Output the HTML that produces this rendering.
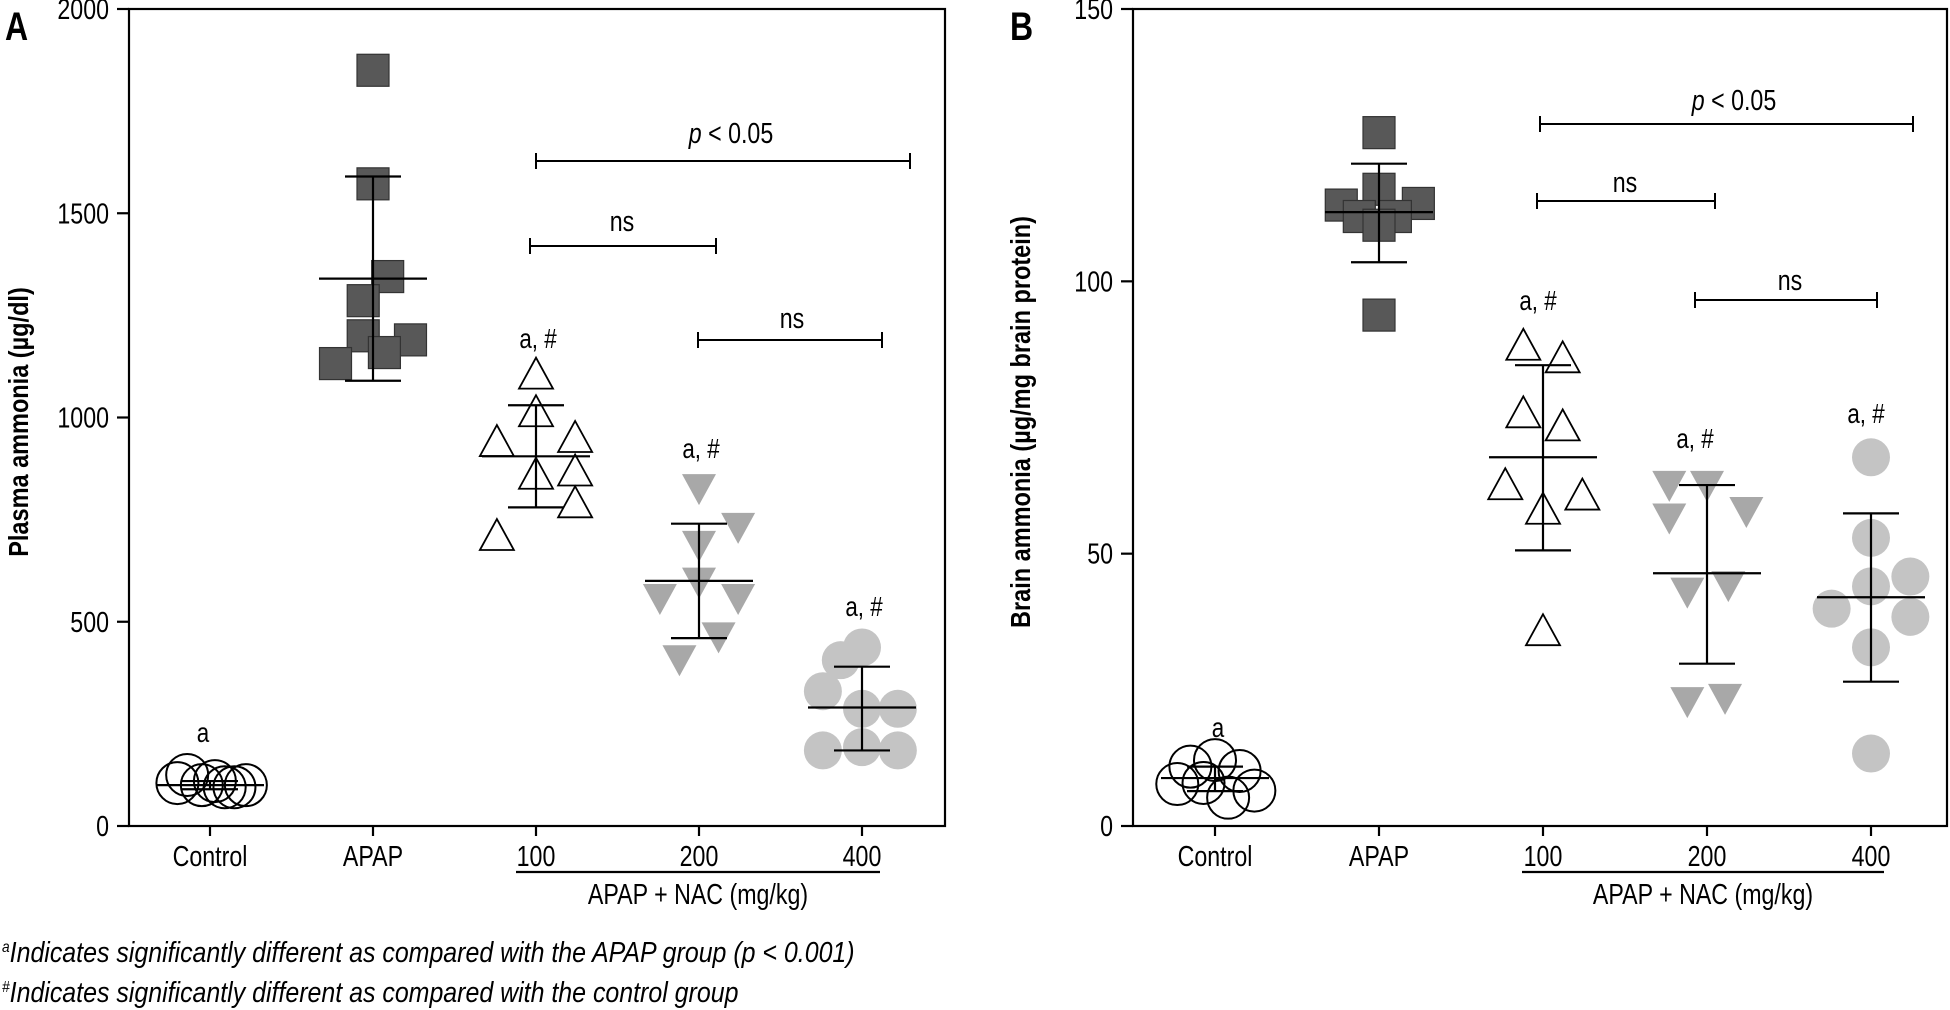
<!DOCTYPE html>
<html><head><meta charset="utf-8"><style>
html,body{margin:0;padding:0;background:#fff;}
svg{display:block;font-family:"Liberation Sans",sans-serif;}
</style></head><body>
<svg id="fig" width="1950" height="1010" viewBox="0 0 1950 1010" xmlns="http://www.w3.org/2000/svg"></svg>
<script>
// ---------- Data ----------
const categories = ["Control","APAP","100","200","400"];
// Panel A: Plasma ammonia (µg/dl)
const plasmaControl = [105,125,100,110,95,95,100];
const plasmaAPAP = [1850,1572,1345,1286,1200,1190,1159,1132];
const plasmaNAC100 = [1100,1008,935,945,855,863,785,705];
const plasmaNAC200 = [832,737,693,603,563,563,469,413];
const plasmaNAC400 = [437,406,330,287,287,185,193,185];
const plasmaMean = [100,1340,905,600,290];
const plasmaLow = [90,1090,780,460,185];
const plasmaHigh = [110,1590,1030,740,390];
const plasmaTicks = [0,500,1000,1500,2000];
// Panel B: Brain ammonia (µg/mg brain protein)
const brainControl = [10.9,12.1,10.1,7.7,7.9,5.2,6.5];
const brainAPAP = [127.3,116.9,114,114.3,111.9,111.9,110.3,93.8];
const brainNAC100 = [87.8,85.5,75.4,73,62.2,60.3,57.7,35.4];
const brainNAC200 = [63,63,58.2,57,43.4,44.6,23.3,23.9];
const brainNAC400 = [67.7,52.9,39.9,44,45.8,38.4,32.8,13.3];
const brainMean = [8.8,112.7,67.7,46.4,42];
const brainLow = [6.4,103.5,50.6,29.8,26.5];
const brainHigh = [10.9,121.6,84.6,62.6,57.4];
const brainTicks = [0,50,100,150];
// horizontal jitter (fraction of category spacing) for the scatter points
const jitA = [[-.2,-.14,-.05,.03,.09,.15,.22],[0,0,.09,-.06,-.06,.23,.07,-.23],[0,0,-.24,.24,0,.24,.24,-.24],[0,.24,0,0,-.24,.24,.12,-.12],[0,-.13,-.24,0,.22,-.24,0,.22]];
const jitB = [[-.15,0,.15,-.23,-.07,.08,.24],[0,0,-.23,.24,-.12,.1,0,0],[-.12,.12,-.12,.12,-.23,.24,0,0],[-.23,0,.24,-.23,-.12,.13,-.12,.11],[0,0,-.24,0,.24,.24,0,0]];

const NS="http://www.w3.org/2000/svg";
const SX=0.8;
const svg=document.getElementById('fig');
function el(tag,attrs,parent){const e=document.createElementNS(NS,tag);for(const k in attrs)e.setAttribute(k,attrs[k]);(parent||svg).appendChild(e);return e;}
function txt(s,attrs,parent){
  const a=Object.assign({},attrs);
  const x=a.x,y=a.y;delete a.x;delete a.y;
  a.transform=`translate(${x},${y}) scale(${SX},1)`;
  const t=el('text',a,parent);t.textContent=s;return t;}

function panel(cfg){
  const g=el('g',{});
  
  
  const L=cfg.left,R=cfg.right,T=9,B=826,max=cfg.max;
  const y=v=>B-(v/max)*(B-T);
  const x=i=>cfg.x0+i*cfg.dx;
  const fr=el('rect',{x:L,y:T,width:R-L,height:B-T,fill:'none',stroke:'#000','stroke-width':2.2},g);
  
  
  cfg.ticks.forEach(t=>{
    el('line',{x1:L-12,x2:L,y1:y(t),y2:y(t),stroke:'#000','stroke-width':2.2},g);
    const lb=txt(String(t),{x:L-20,y:y(t)+10,'text-anchor':'end','font-size':29},g);
    
    
  });
  categories.forEach((c,i)=>{
    el('line',{x1:x(i),x2:x(i),y1:B,y2:B+10,stroke:'#000','stroke-width':2.2},g);
    const lb=txt(c,{x:x(i),y:866,'text-anchor':'middle','font-size':29},g);
    
    
  });
  el('line',{x1:cfg.ulx1,x2:cfg.ulx2,y1:872,y2:872,stroke:'#000','stroke-width':2.2},g);
  const grp=txt('APAP + NAC (mg/kg)',{x:(cfg.ulx1+cfg.ulx2)/2,y:904,'text-anchor':'middle','font-size':29},g);
  
  
  const yt=el('text',{x:0,y:0,'text-anchor':'middle','font-size':28,'font-weight':'bold',transform:`translate(${cfg.ytx},422) rotate(-90) scale(0.84,1)`},g);
  yt.textContent=cfg.ytitle;
  
  
  const pl=txt(cfg.letter,{x:cfg.letterX,y:40,'font-size':40,'font-weight':'bold'},g);
  
  
  cfg.series.forEach((vals,i)=>{
    vals.forEach((v,j)=>{
      const cx=x(i)+cfg.jit[i][j]*cfg.dx, cy=y(v);
      let m;
      if(i===0) m=el('circle',{cx,cy,r:21,fill:'none',stroke:'#000','stroke-width':2},g);
      else if(i===1) m=el('rect',{x:cx-16,y:cy-16,width:32,height:32,fill:'#585858',stroke:'#333','stroke-width':1.2},g);
      else if(i===2) m=el('polygon',{points:`${cx},${cy-19} ${cx-17},${cy+12} ${cx+17},${cy+12}`,fill:'#fff',stroke:'#000','stroke-width':1.8},g);
      else if(i===3) m=el('polygon',{points:`${cx},${cy+19} ${cx-17},${cy-12} ${cx+17},${cy-12}`,fill:'#a8a8a8',stroke:'none'},g);
      else m=el('circle',{cx,cy,r:19,fill:'#c4c4c4'},g);
      
      
    });
  });
  cfg.mean.forEach((mv,i)=>{
    const eb=el('g',{stroke:'#000','stroke-width':2.2},g);
    
    
    el('line',{x1:x(i)-54,x2:x(i)+54,y1:y(mv),y2:y(mv)},eb);
    el('line',{x1:x(i),x2:x(i),y1:y(cfg.low[i]),y2:y(cfg.high[i])},eb);
    el('line',{x1:x(i)-28,x2:x(i)+28,y1:y(cfg.low[i]),y2:y(cfg.low[i])},eb);
    el('line',{x1:x(i)-28,x2:x(i)+28,y1:y(cfg.high[i]),y2:y(cfg.high[i])},eb);
  });
  cfg.ann.forEach(a=>{
    const t=txt(a[0],{x:a[1],y:a[2]+10,'text-anchor':'middle','font-size':28},g);
    
    
  });
  cfg.br.forEach(b=>{
    const bg=el('g',{stroke:'#000','stroke-width':2},g);
    
    
    el('line',{x1:b[0],x2:b[1],y1:b[2],y2:b[2]},bg);
    el('line',{x1:b[0],x2:b[0],y1:b[2]-8,y2:b[2]+8},bg);
    el('line',{x1:b[1],x2:b[1],y1:b[2]-8,y2:b[2]+8},bg);
    const t=el('text',{x:0,y:0,'text-anchor':'middle','font-size':29,stroke:'none',transform:`translate(${b[4]},${b[5]+10}) scale(${SX},1)`},g);
    if(b[3]==='p'){const ts=el('tspan',{'font-style':'italic'},t);ts.textContent='p';const t2=el('tspan',{},t);t2.textContent=' < 0.05';}
    else t.textContent='ns';
    
    
  });
}

panel({name:'panel-a-plasma',left:129,right:945,max:2000,x0:210,dx:163,ticks:plasmaTicks,
  series:[plasmaControl,plasmaAPAP,plasmaNAC100,plasmaNAC200,plasmaNAC400],jit:jitA,
  mean:plasmaMean,low:plasmaLow,high:plasmaHigh,ulx1:516,ulx2:880,ytitle:'Plasma ammonia (µg/dl)',ytx:28,letter:'A',letterX:5,
  ann:[['a',203,732],['a, #',538,338],['a, #',701,448],['a, #',864,606]],
  br:[[536,910,161,'p',731,133],[530,716,246,'n',622,221],[698,882,340,'n',792,318]]});
panel({name:'panel-b-brain',left:1133,right:1947,max:150,x0:1215,dx:164,ticks:brainTicks,
  series:[brainControl,brainAPAP,brainNAC100,brainNAC200,brainNAC400],jit:jitB,
  mean:brainMean,low:brainLow,high:brainHigh,ulx1:1522,ulx2:1884,ytitle:'Brain ammonia (µg/mg brain protein)',ytx:1030,letter:'B',letterX:1010,
  ann:[['a',1218,727],['a, #',1538,300],['a, #',1695,438],['a, #',1866,413]],
  br:[[1540,1913,124,'p',1734,100],[1537,1715,201,'n',1625,182],[1695,1877,300,'n',1790,280]]});

const f1=el('text',{x:0,y:0,'font-size':29,'font-style':'italic',transform:`translate(2,962) scale(0.86,1)`});


el('tspan',{'font-size':16,dy:-10},f1).textContent='a';
el('tspan',{dy:10},f1).textContent='Indicates significantly different as compared with the APAP group (p < 0.001)';
const f2=el('text',{x:0,y:0,'font-size':29,'font-style':'italic',transform:`translate(2,1002) scale(0.86,1)`});


el('tspan',{'font-size':16,dy:-10},f2).textContent='#';
el('tspan',{dy:10},f2).textContent='Indicates significantly different as compared with the control group';
</script>
</body></html>
